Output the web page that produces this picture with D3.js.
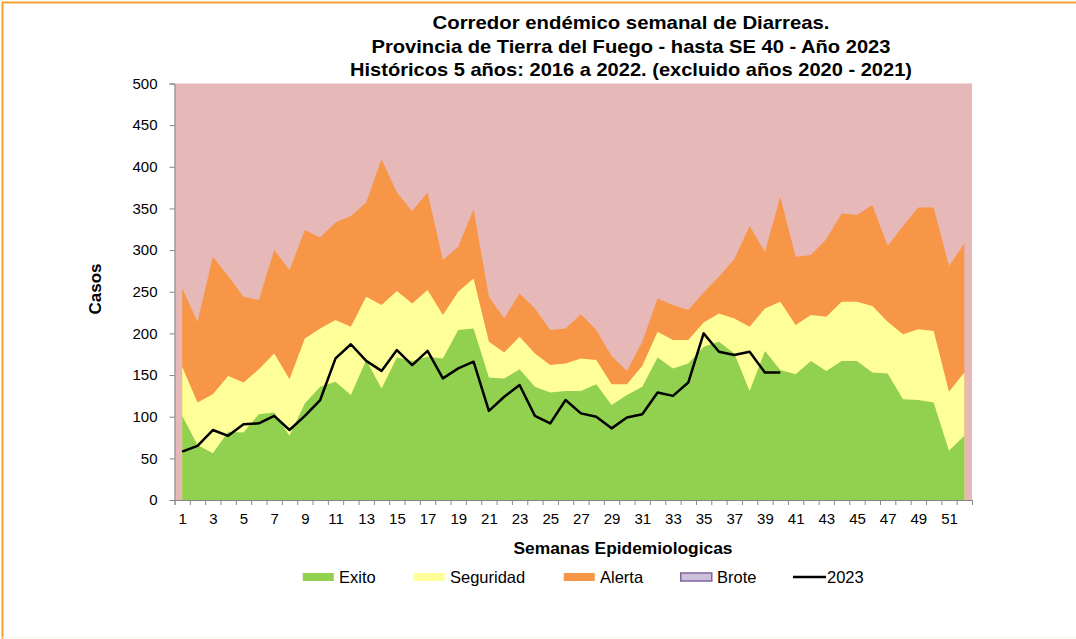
<!DOCTYPE html>
<html>
<head>
<meta charset="utf-8">
<script src="https://cdn.jsdelivr.net/npm/d3@7"></script>
<style>
  body { margin: 0; background: #fff; }
  svg { display: block; font-family: "Liberation Sans", Arial, sans-serif; }
</style>
</head>
<body>
<svg id="chart" width="1076" height="639"></svg>
<script>
// semanas epidemiologicas
const weeks = d3.range(1, 53)
// limites superiores de cada zona (valores acumulados)
const exito = [101, 66, 56, 82, 81, 103, 105, 77, 116, 136, 142, 126, 168, 134, 171, 167, 172, 170,
  204, 206, 147, 146, 157, 136, 129, 131, 131, 139, 114, 126, 136, 171, 158, 164, 184, 190,
  176, 131, 179, 156, 151, 167, 155, 167, 167, 153, 152, 121, 120, 117, 59, 77]
const seguridad = [160, 117, 127, 149, 141, 157, 176, 145, 194, 206, 216, 208, 244, 234, 251, 236, 252, 222,
  250, 266, 190, 177, 196, 176, 162, 164, 170, 168, 139, 139, 161, 202, 192, 192, 213, 224,
  218, 208, 230, 238, 210, 222, 220, 238, 238, 233, 214, 199, 205, 203, 130, 153]
const alerta = [254, 214, 292, 269, 244, 240, 300, 276, 324, 315, 333, 341, 357, 409, 369, 347, 369, 288,
  304, 349, 244, 218, 248, 230, 204, 206, 223, 204, 173, 155, 190, 242, 234, 228, 249, 268,
  289, 329, 298, 364, 292, 294, 313, 344, 342, 354, 305, 329, 351, 351, 281, 308]
const casos2023 = [58, 65, 84, 77, 91, 92, 101, 84, 101, 120, 170, 187, 167, 155, 180, 162, 179, 146,
  158, 166, 107, 124, 138, 101, 92, 120, 104, 100, 86, 99, 103, 129, 125, 141, 200, 178,
  174, 178, 153, 153]
const yTicks = d3.range(0, 501, 50)
const titleLines = [
  'Corredor endémico semanal de Diarreas.',
  'Provincia de Tierra del Fuego - hasta SE 40 - Año 2023',
  'Históricos 5 años: 2016 a 2022. (excluido años 2020 - 2021)'
]
const titleWidths = [397, 519, 562]
const legendItems = [
  {name: 'Exito', fill: '#92D050'},
  {name: 'Seguridad', fill: '#FFFF99'},
  {name: 'Alerta', fill: '#F79646'},
  {name: 'Brote', fill: '#CCC0DA', stroke: '#8064A2'},
  {name: '2023', line: true}
]

const LEFT = 174.5, RIGHT = 972, TOP = 83.5, BOTTOM = 500

const svg = d3.select('#chart')

// marco
svg.append('line').attr('x1', 2).attr('x2', 1076).attr('y1', 2.5).attr('y2', 2.5)
  .attr('stroke', '#F7A030').attr('stroke-width', 2)
svg.append('line').attr('x1', 2.5).attr('x2', 2.5).attr('y1', 2).attr('y2', 639)
  .attr('stroke', '#F7A030').attr('stroke-width', 2)
svg.append('line').attr('x1', 2).attr('x2', 1076).attr('y1', 637.5).attr('y2', 637.5)
  .attr('stroke', '#FDF1DF').attr('stroke-width', 1)

const x = d3.scaleLinear().domain([0.5, 52.5]).range([LEFT, RIGHT])
const y = d3.scaleLinear().domain([0, 500]).range([BOTTOM, TOP])

svg.append('rect')
  .attr('x', LEFT).attr('y', TOP)
  .attr('width', RIGHT - LEFT).attr('height', BOTTOM - TOP)
  .attr('fill', '#E6B8B7')

function zone(values, color) {
  const area = d3.area()
    .x((d, i) => x(weeks[i]))
    .y0(y(0))
    .y1(d => y(d))
  svg.append('path').datum(values)
    .attr('d', area)
    .attr('fill', color)
}
zone(alerta, '#F79646')
zone(seguridad, '#FFFF99')
zone(exito, '#92D050')

const line = d3.line()
  .x((d, i) => x(weeks[i]))
  .y(d => y(d))
svg.append('path').datum(casos2023)
  .attr('d', line)
  .attr('fill', 'none')
  .attr('stroke', '#000')
  .attr('stroke-width', 2.5)
  .attr('stroke-linejoin', 'round')

// ejes
const yAxis = svg.append('g')
  .attr('transform', `translate(${LEFT},0)`)
  .call(d3.axisLeft(y).tickValues(yTicks).tickSize(5).tickPadding(12))
yAxis.selectAll('path, line').attr('stroke', '#868686')
yAxis.selectAll('text').attr('font-size', 15).attr('fill', '#000')
  .attr('font-family', '"Liberation Sans", Arial, sans-serif')

const xAxis = svg.append('g')
  .attr('transform', `translate(0,${BOTTOM})`)
  .call(d3.axisBottom(x).tickValues(d3.range(0.5, 53, 1)).tickSize(5).tickFormat(''))
xAxis.selectAll('path, line').attr('stroke', '#868686')

const xLabels = svg.append('g')
  .attr('transform', `translate(0,${BOTTOM})`)
  .call(d3.axisBottom(x).tickValues(weeks.filter(d => d % 2 === 1)).tickSize(0).tickPadding(13))
xLabels.select('.domain').remove()
xLabels.selectAll('text').attr('font-size', 15).attr('fill', '#000')
  .attr('font-family', '"Liberation Sans", Arial, sans-serif')

// titulos
svg.append('g').selectAll('text')
  .data(titleLines)
  .enter().append('text')
    .attr('x', 631)
    .attr('y', (d, i) => 29 + i * 23.5)
    .attr('text-anchor', 'middle')
    .attr('font-weight', 'bold')
    .attr('font-size', 19)
    .attr('textLength', (d, i) => titleWidths[i])
    .attr('lengthAdjust', 'spacingAndGlyphs')
    .text(d => d)

svg.append('text')
  .attr('transform', 'translate(101,289) rotate(-90)')
  .attr('text-anchor', 'middle')
  .attr('font-weight', 'bold')
  .attr('font-size', 17)
  .text('Casos')

svg.append('text')
  .attr('x', 623).attr('y', 554)
  .attr('text-anchor', 'middle')
  .attr('font-weight', 'bold')
  .attr('font-size', 17)
  .attr('textLength', 219)
  .attr('lengthAdjust', 'spacingAndGlyphs')
  .text('Semanas Epidemiologicas')

// leyenda
const legendX = [302, 413, 563, 680, 793]
const legend = svg.append('g').selectAll('g')
  .data(legendItems)
  .enter().append('g')
    .attr('transform', (d, i) => `translate(${legendX[i]},577)`)
legend.each(function(d) {
  const g = d3.select(this)
  if (d.line) {
    g.append('line').attr('x1', 0).attr('x2', 33).attr('y1', 0).attr('y2', 0)
      .attr('stroke', '#000').attr('stroke-width', 2.5)
  } else {
    g.append('rect').attr('x', 0.75).attr('y', -4).attr('width', 31).attr('height', 8)
      .attr('fill', d.fill)
      .attr('stroke', d.stroke || 'none')
      .attr('stroke-width', 1.5)
  }
})
legend.append('text')
  .attr('x', d => d.line ? 34 : 37)
  .attr('y', 6)
  .attr('font-size', 16.5)
  .text(d => d.name)
</script>
</body>
</html>
